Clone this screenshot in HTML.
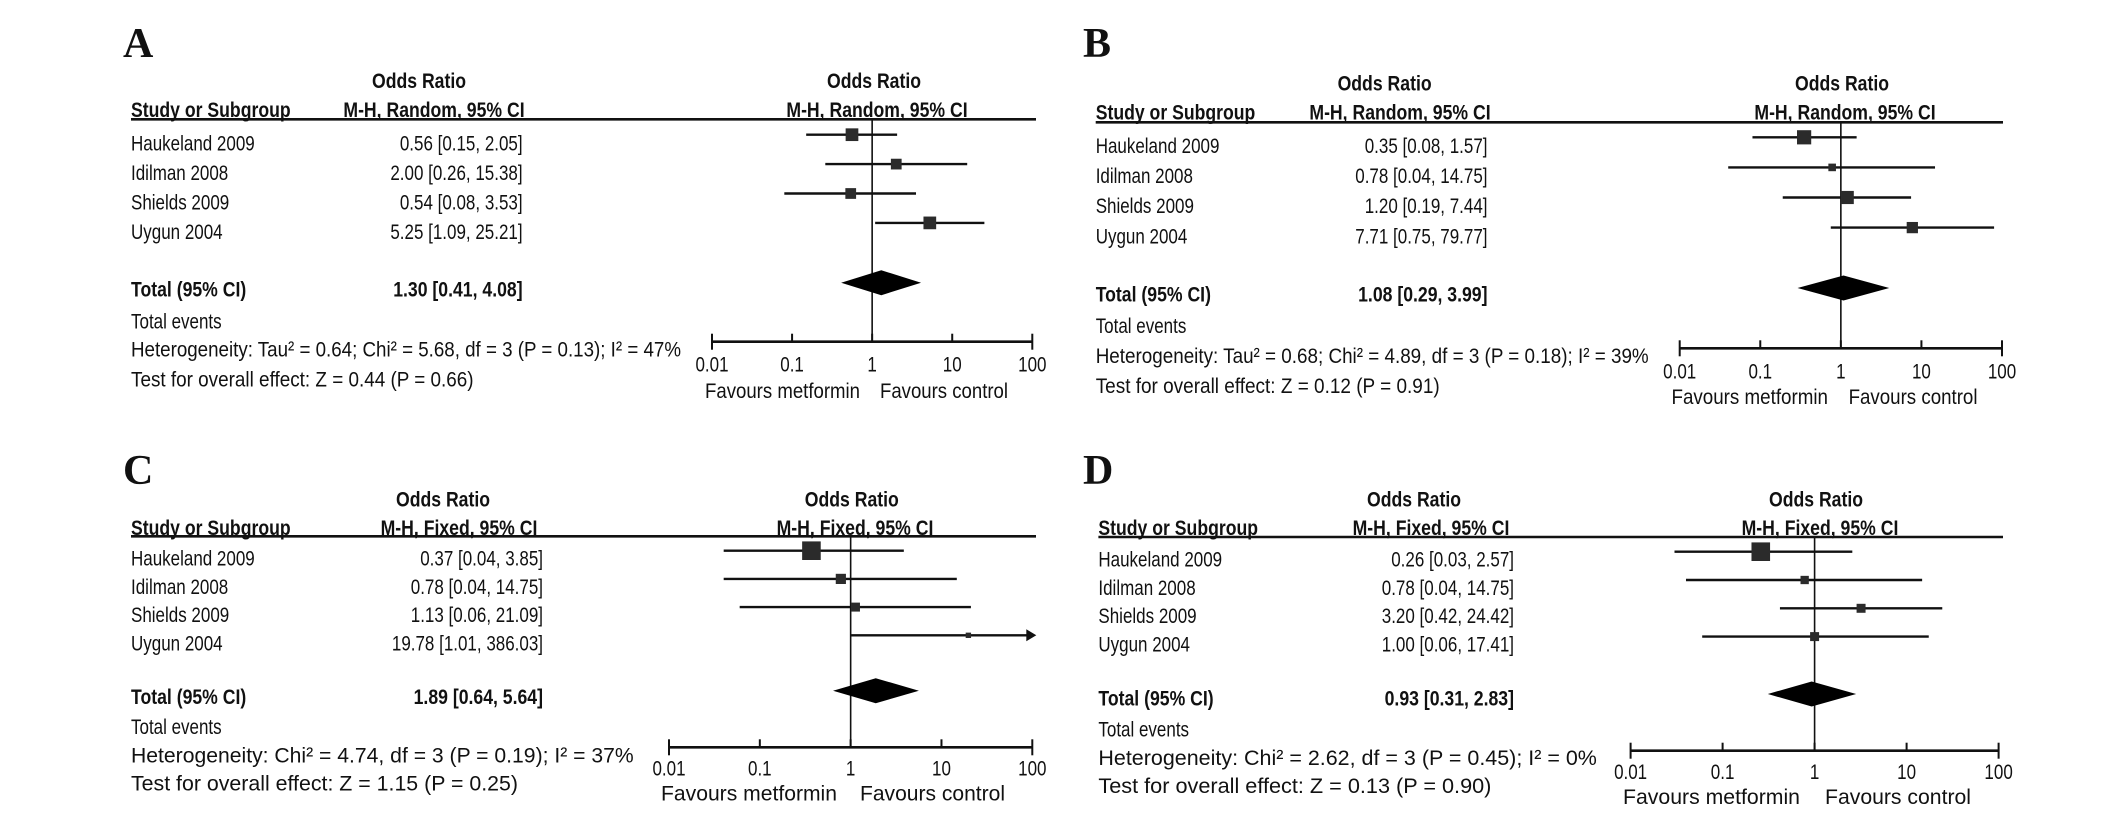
<!DOCTYPE html>
<html><head><meta charset="utf-8"><style>
html,body{margin:0;padding:0;background:#fff;}
svg{display:block;}
text{font-family:"Liberation Sans",Arial,sans-serif;fill:#111;}
</style></head><body>
<svg id="fig" width="2126" height="819" viewBox="0 0 2126 819" xmlns="http://www.w3.org/2000/svg"></svg>
<script>
// ---- data ----
const studies = ["Haukeland 2009","Idilman 2008","Shields 2009","Uygun 2004"];
const tickValues = [0.01,0.1,1,10,100];
const tickLabels = ["0.01","0.1","1","10","100"];
const orA = [0.56,2.00,0.54,5.25];
const lowA = [0.15,0.26,0.08,1.09];
const highA = [2.05,15.38,3.53,25.21];
const weightA = [28,20,20,28];
const totalA = [1.30,0.41,4.08];
const orB = [0.35,0.78,1.20,7.71];
const lowB = [0.08,0.04,0.19,0.75];
const highB = [1.57,14.75,7.44,79.77];
const weightB = [35,10,30,22];
const totalB = [1.08,0.29,3.99];
const orC = [0.37,0.78,1.13,19.78];
const lowC = [0.04,0.04,0.06,1.01];
const highC = [3.85,14.75,21.09,386.03];
const weightC = [60,18,14,5];
const totalC = [1.89,0.64,5.64];
const orD = [0.26,0.78,3.20,1.00];
const lowD = [0.03,0.04,0.42,0.06];
const highD = [2.57,14.75,24.42,17.41];
const weightD = [60,12,14,14];
const totalD = [0.93,0.31,2.83];
const hetA = "Heterogeneity: Tau\u00b2 = 0.64; Chi\u00b2 = 5.68, df = 3 (P = 0.13); I\u00b2 = 47%";
const testA = "Test for overall effect: Z = 0.44 (P = 0.66)";
const hetB = "Heterogeneity: Tau\u00b2 = 0.68; Chi\u00b2 = 4.89, df = 3 (P = 0.18); I\u00b2 = 39%";
const testB = "Test for overall effect: Z = 0.12 (P = 0.91)";
const hetC = "Heterogeneity: Chi\u00b2 = 4.74, df = 3 (P = 0.19); I\u00b2 = 37%";
const testC = "Test for overall effect: Z = 1.15 (P = 0.25)";
const hetD = "Heterogeneity: Chi\u00b2 = 2.62, df = 3 (P = 0.45); I\u00b2 = 0%";
const testD = "Test for overall effect: Z = 0.13 (P = 0.90)";

// ---- layout ----
const panels = [
 {id:'a',letter:'A',or:orA,lo:lowA,hi:highA,w:weightA,tot:totalA,het:hetA,test:testA,method:'Random',
  lx:123,ly:57,h1:88,h2:117,colOR:419,plotOR:874,sx:131,mh:434,mhP:877,ruleY:119.3,ruleX2:1036,
  r0:134.7,rs:29.4,tdy:16,vr:522.6,totY:282.7,totT:296.7,ev:328.3,hy:356.7,ty:386.7,hw:550,tw:342.6,
  ay:341.7,x0:712,x1:1032.3,tl:371.7,fy:398,fm:[705,860],fc:[880,1008]},
 {id:'b',letter:'B',or:orB,lo:lowB,hi:highB,w:weightB,tot:totalB,het:hetB,test:testB,method:'Random',
  lx:1083,ly:57,h1:90.7,h2:119.3,colOR:1384.6,plotOR:1842,sx:1095.7,mh:1400,mhP:1845,ruleY:122.3,ruleX2:2003,
  r0:137.3,rs:30.1,tdy:15.7,vr:1487.5,totY:288,totT:301.7,ev:333,hy:363,ty:393,hw:553,tw:344,
  ay:348.3,x0:1679.7,x1:2002,tl:378.3,fy:404,fm:[1671.5,1828],fc:[1848.6,1977.5]},
 {id:'c',letter:'C',or:orC,lo:lowC,hi:highC,w:weightC,tot:totalC,het:hetC,test:testC,method:'Fixed',
  lx:123,ly:484,h1:506.3,h2:535,colOR:443,plotOR:851.8,sx:131,mh:459,mhP:855,ruleY:536.3,ruleX2:1036,
  r0:550.7,rs:28.2,tdy:15,vr:543,totY:690.7,totT:704,ev:734,hy:762.3,ty:790.7,hw:502.7,tw:387,
  ay:747.3,x0:669,x1:1032.3,tl:775.7,fy:800.7,fm:[661,837],fc:[860,1005]},
 {id:'d',letter:'D',or:orD,lo:lowD,hi:highD,w:weightD,tot:totalD,het:hetD,test:testD,method:'Fixed',
  lx:1083,ly:484,h1:506.3,h2:535,colOR:1414,plotOR:1816,sx:1098.4,mh:1431,mhP:1820,ruleY:537,ruleX2:2003,
  r0:551.7,rs:28.3,tdy:14.8,vr:1514,totY:694,totT:705.7,ev:736.3,hy:765,ty:793,hw:498.5,tw:393,
  ay:750.7,x0:1630.6,x1:1998.6,tl:779,fy:804,fm:[1623,1800],fc:[1825,1971]}
];

const NS='http://www.w3.org/2000/svg';
const svg=document.getElementById('fig');
function mk(tag,parent,attrs){const e=document.createElementNS(NS,tag);for(const k in attrs)e.setAttribute(k,attrs[k]);parent.appendChild(e);return e;}
function txt(parent,x,y,s,anchor,bold,width,size){
  const t=mk('text',parent,{x:x,y:y,'font-size':size||21.5,'text-anchor':anchor||'start'});
  if(bold)t.setAttribute('font-weight','bold');
  t.textContent=s;
  const L=t.getComputedTextLength();
  const W=width||L*(bold?0.82:0.79);
  t.setAttribute('textLength',W);t.setAttribute('lengthAdjust','spacingAndGlyphs');
  return t;
}
panels.forEach(p=>{
  const g=mk('g',svg,{});
  
  
  const xs=v=>{const c=Math.max(0.01,Math.min(100,v));return p.x0+(p.x1-p.x0)*(Math.log10(c)+2)/4;};
  const lt=mk('text',g,{x:p.lx,y:p.ly,'font-size':42,'font-weight':'bold',style:'font-family:"Liberation Serif",serif'});
  lt.textContent=p.letter;
  
  
  txt(g,p.colOR,p.h1,'Odds Ratio','middle',true);
  txt(g,p.plotOR,p.h1,'Odds Ratio','middle',true);
  const sh=txt(g,p.sx,p.h2,'Study or Subgroup','start',true);
  
  
  txt(g,p.mh,p.h2,'M-H, '+p.method+', 95% CI','middle',true);
  txt(g,p.mhP,p.h2,'M-H, '+p.method+', 95% CI','middle',true);
  mk('line',g,{x1:p.sx,x2:p.ruleX2,y1:p.ruleY,y2:p.ruleY,stroke:'#111','stroke-width':2.6});
  const vx=xs(1);
  mk('line',g,{x1:vx,x2:vx,y1:p.ruleY,y2:p.ay,stroke:'#111','stroke-width':1.6});
  studies.forEach((s,i)=>{
    const y=p.r0+p.rs*i;
    const st=txt(g,p.sx,y+p.tdy,s,'start',false);
    
    
    const val=p.or[i].toFixed(2)+' ['+p.lo[i].toFixed(2)+', '+p.hi[i].toFixed(2)+']';
    txt(g,p.vr,y+p.tdy,val,'end',false);
    const xl=xs(p.lo[i]),xh=xs(p.hi[i]);
    const ci=mk('line',g,{x1:xl,x2:xh,y1:y,y2:y,stroke:'#111','stroke-width':2.4});
    
    
    if(p.hi[i]>100){const a=mk('polygon',g,{points:(xh+4)+','+y+' '+(xh-6)+','+(y-6)+' '+(xh-6)+','+(y+6),fill:'#111'});
      
      }
    const sz=2.4*Math.sqrt(p.w[i]);
    const sq=mk('rect',g,{x:xs(p.or[i])-sz/2,y:y-sz/2,width:sz,height:sz,fill:'#2b2b2b'});
    
    
  });
  txt(g,p.sx,p.totT,'Total (95% CI)','start',true);
  txt(g,p.vr,p.totT,p.tot[0].toFixed(2)+' ['+p.tot[1].toFixed(2)+', '+p.tot[2].toFixed(2)+']','end',true);
  const t=p.tot;
  const dm=mk('polygon',g,{points:xs(t[1])+','+p.totY+' '+xs(t[0])+','+(p.totY-12.5)+' '+xs(t[2])+','+p.totY+' '+xs(t[0])+','+(p.totY+12.5),fill:'#000'});
  
  
  txt(g,p.sx,p.ev,'Total events','start',false);
  const ht=txt(g,p.sx,p.hy,p.het,'start',false,p.hw);
  
  
  txt(g,p.sx,p.ty,p.test,'start',false,p.tw);
  const ax=mk('line',g,{x1:p.x0,x2:p.x1,y1:p.ay,y2:p.ay,stroke:'#111','stroke-width':2.6});
  
  
  tickValues.forEach((v,i)=>{
    const x=xs(v);
    const end=(i===0||i===tickValues.length-1);
    mk('line',g,{x1:x,x2:x,y1:p.ay-8,y2:end?p.ay+8:p.ay,stroke:'#111','stroke-width':2});
    const tl=txt(g,x,p.tl,tickLabels[i],'middle',false);
    
    
  });
  txt(g,(p.fm[0]+p.fm[1])/2,p.fy,'Favours metformin','middle',false,p.fm[1]-p.fm[0]);
  txt(g,(p.fc[0]+p.fc[1])/2,p.fy,'Favours control','middle',false,p.fc[1]-p.fc[0]);
});
</script>
</body></html>
